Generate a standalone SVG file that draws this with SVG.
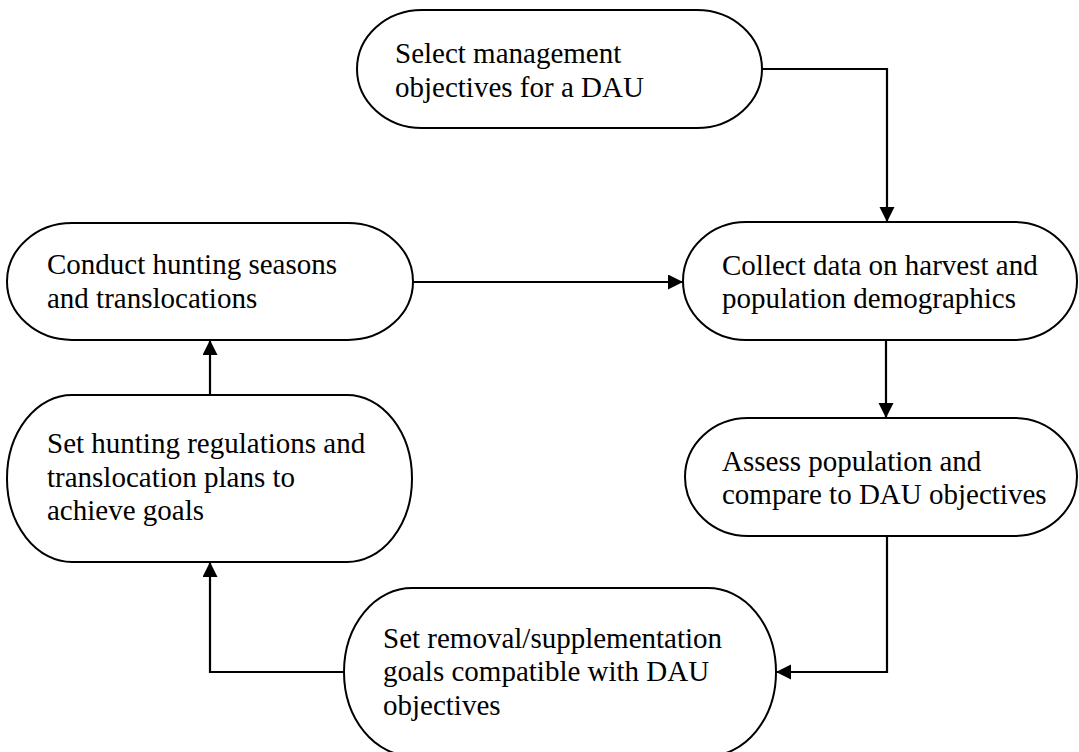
<svg xmlns="http://www.w3.org/2000/svg" width="1079" height="752" viewBox="0 0 1079 752">
<style>
.node{fill:#fff;stroke:#000;stroke-width:2}
.lbl{font-family:"Liberation Serif","Times New Roman",serif;font-size:29px;fill:#000}
.conn{fill:none;stroke:#000;stroke-width:2.2}
</style>
<defs>
<marker id="arr" markerUnits="userSpaceOnUse" markerWidth="16" markerHeight="16" refX="15" refY="7.5" orient="auto">
<path d="M0,0 L15,7.5 L0,15 Z" fill="#000"/>
</marker>
</defs>
<rect width="1079" height="752" fill="#fff"/>
<g id="connectors">
<path class="conn" d="M762,69 H887 V222" marker-end="url(#arr)"/>
<path class="conn" d="M413,282 H683" marker-end="url(#arr)"/>
<path class="conn" d="M886,340 V418" marker-end="url(#arr)"/>
<path class="conn" d="M887,536 V672 H776" marker-end="url(#arr)"/>
<path class="conn" d="M344,672 H210 V562" marker-end="url(#arr)"/>
<path class="conn" d="M210,395 V340" marker-end="url(#arr)"/>
</g>
<g id="n1">
<rect class="node" x="357" y="10" width="405" height="118" rx="65" ry="59"/>
<text class="lbl" x="395" y="63">Select management</text>
<text class="lbl" x="395" y="97">objectives for a DAU</text>
</g>
<g id="n2">
<rect class="node" x="683" y="222" width="394" height="118" rx="63" ry="59"/>
<text class="lbl" x="722" y="275">Collect data on harvest and</text>
<text class="lbl" x="722" y="308">population demographics</text>
</g>
<g id="n3">
<rect class="node" x="685" y="418" width="392" height="118" rx="63" ry="59"/>
<text class="lbl" x="722" y="471">Assess population and</text>
<text class="lbl" x="722" y="504">compare to DAU objectives</text>
</g>
<g id="n4">
<rect class="node" x="7" y="223" width="406" height="117" rx="65" ry="58.5"/>
<text class="lbl" x="47" y="274">Conduct hunting seasons</text>
<text class="lbl" x="47" y="308">and translocations</text>
</g>
<g id="n5">
<rect class="node" x="7" y="395" width="405" height="167" rx="65" ry="83.5"/>
<text class="lbl" x="47" y="453">Set hunting regulations and</text>
<text class="lbl" x="47" y="487">translocation plans to</text>
<text class="lbl" x="47" y="520">achieve goals</text>
</g>
<g id="n6">
<rect class="node" x="344" y="588" width="432" height="168" rx="68" ry="84"/>
<text class="lbl" x="383" y="648">Set removal/supplementation</text>
<text class="lbl" x="383" y="681">goals compatible with DAU</text>
<text class="lbl" x="383" y="715">objectives</text>
</g>
</svg>
